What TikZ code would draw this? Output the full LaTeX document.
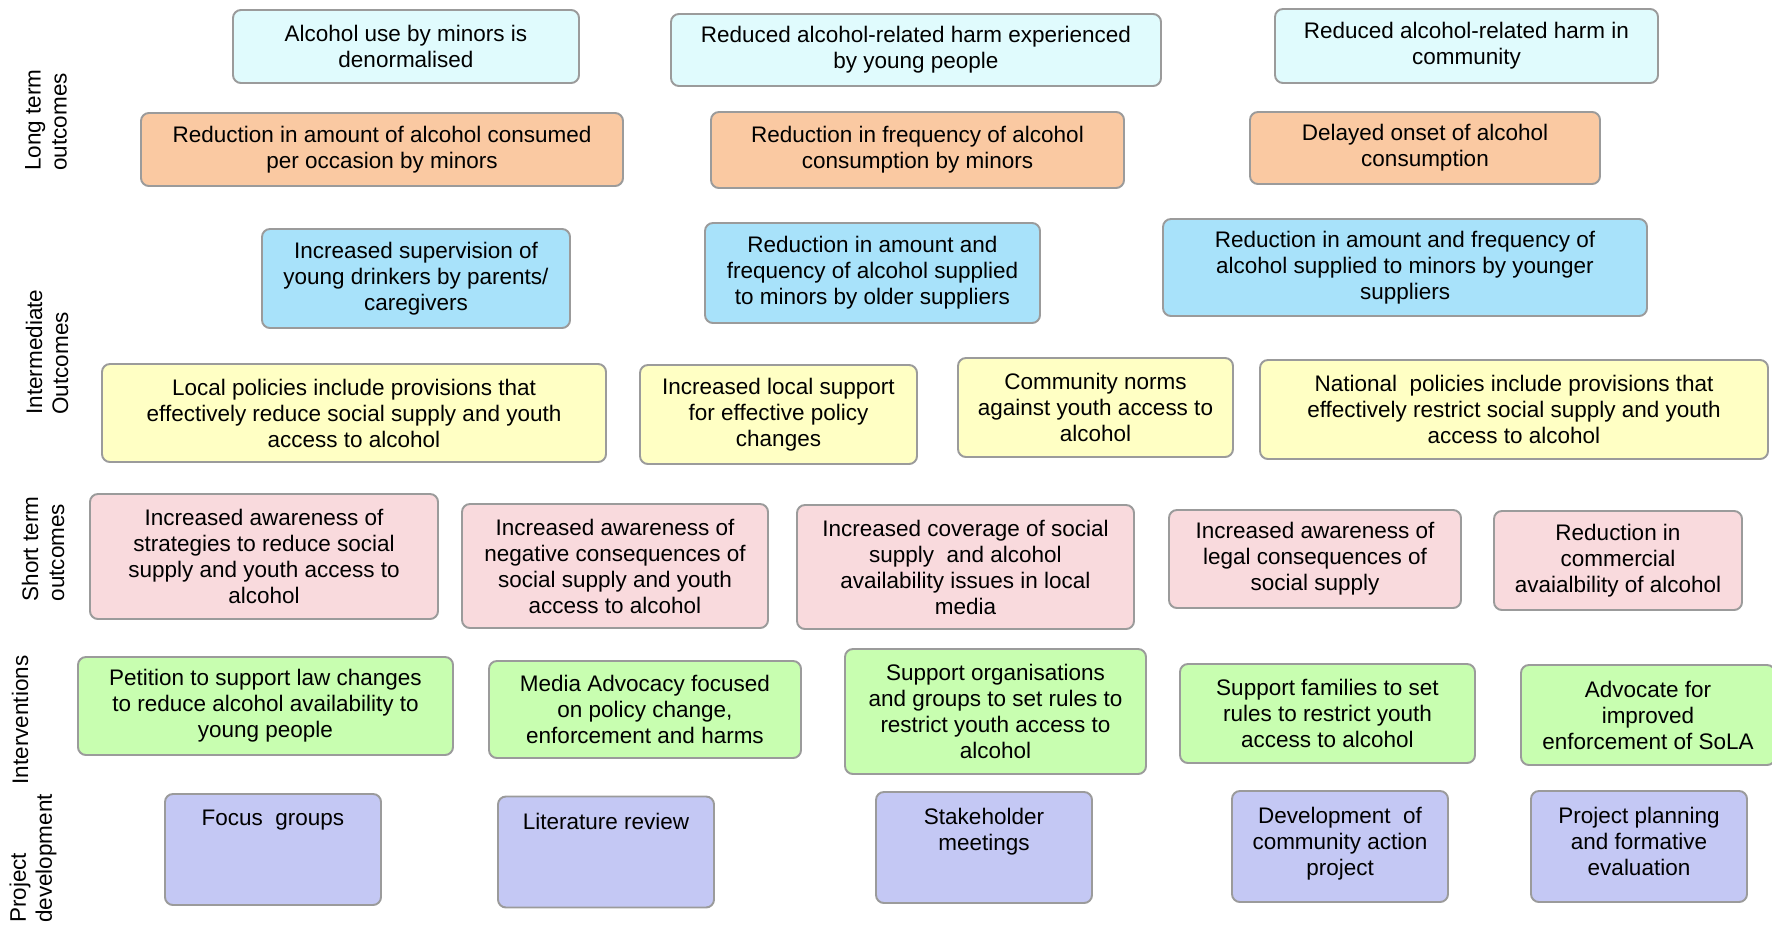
\documentclass[tikz,border=0pt]{standalone}
\usepackage{fontspec}
\setmainfont{Liberation Sans}
\usepackage{tikz}
\usetikzlibrary{positioning}

\definecolor{goalcyan}{RGB}{224,251,253}
\definecolor{useorange}{RGB}{250,201,162}
\definecolor{supplyblue}{RGB}{168,226,250}
\definecolor{policyyellow}{RGB}{255,255,196}
\definecolor{shortpink}{RGB}{249,218,221}
\definecolor{actiongreen}{RGB}{200,254,176}
\definecolor{devpurple}{RGB}{196,200,244}
\definecolor{edgegray}{RGB}{155,155,155}

\begin{document}
\begin{tikzpicture}[
    every node/.style={font=\fontsize{12.8}{14.8}\selectfont},
    box/.style={draw=edgegray, line width=1.1pt, rounded corners=4.5pt, align=center, inner sep=2pt},
    longterm/.style={box, fill=goalcyan},
    usebox/.style={box, fill=useorange},
    supply/.style={box, fill=supplyblue},
    policy/.style={box, fill=policyyellow},
    shortterm/.style={box, fill=shortpink},
    intervention/.style={box, fill=actiongreen},
    devbox/.style={box, fill=devpurple, minimum width=4.32cm, minimum height=2.22cm},
    devtext/.style={anchor=north, yshift=-0.34cm, inner sep=0pt, align=center},
    rowlabel/.style={rotate=90, align=left, inner sep=0pt}
]
\useasboundingbox (0,0) rectangle (35.44,-18.56);

% row labels
\node[rowlabel] (lbllong) at (0.92,-2.40) {Long term\\outcomes};
\node[rowlabel] (lblinter) at (0.94,-7.04) {Intermediate\\Outcomes};
\node[rowlabel] (lblshort) at (0.86,-10.98) {Short term\\outcomes};
\node[rowlabel] (lblinterv) at (0.40,-14.40) {Interventions};
\node[rowlabel] (lbldev) at (0.66,-17.17) {Project\\development};

% long term outcomes
\node[longterm, minimum width=6.92cm, minimum height=1.46cm] (denorm) at (8.12,-0.93) {Alcohol use by minors is\\denormalised};
\node[longterm, minimum width=9.80cm, minimum height=1.44cm] (harmyoung) at (18.32,-1.00) {Reduced alcohol-related harm experienced\\by young people};
\node[longterm, minimum width=7.66cm, minimum height=1.48cm] (harmcomm) at (29.33,-0.92) {Reduced alcohol-related harm in\\community};
\node[usebox, minimum width=9.64cm, minimum height=1.46cm] (amount) at (7.64,-2.99) {Reduction in amount of alcohol consumed\\per occasion by minors};
\node[usebox, minimum width=8.26cm, minimum height=1.52cm] (frequency) at (18.35,-3.00) {Reduction in frequency of alcohol\\consumption by minors};
\node[usebox, minimum width=7.00cm, minimum height=1.44cm] (onset) at (28.50,-2.96) {Delayed onset of alcohol\\consumption};

% intermediate outcomes
\node[supply, minimum width=6.16cm, minimum height=1.98cm] (supervision) at (8.32,-5.57) {Increased supervision of\\young drinkers by parents/\\caregivers};
\node[supply, minimum width=6.70cm, minimum height=2.00cm] (oldersupply) at (17.45,-5.46) {Reduction in amount and\\frequency of alcohol supplied\\to minors by older suppliers};
\node[supply, minimum width=9.68cm, minimum height=1.94cm] (youngsupply) at (28.10,-5.35) {Reduction in amount and frequency of\\alcohol supplied to minors by younger\\suppliers};
\node[policy, minimum width=10.08cm, minimum height=1.96cm] (localpol) at (7.08,-8.26) {Local policies include provisions that\\effectively reduce social supply and youth\\access to alcohol};
\node[policy, minimum width=5.54cm, minimum height=1.98cm] (localsupport) at (15.57,-8.29) {Increased local support\\for effective policy\\changes};
\node[policy, minimum width=5.50cm, minimum height=1.98cm] (norms) at (21.91,-8.15) {Community norms\\against youth access to\\alcohol};
\node[policy, minimum width=10.16cm, minimum height=1.98cm] (nationalpol) at (30.28,-8.19) {National\ \ policies include provisions that\\effectively restrict social supply and youth\\access to alcohol};

% short term outcomes
\node[shortterm, minimum width=6.96cm, minimum height=2.50cm] (strategies) at (5.28,-11.13) {Increased awareness of\\strategies to reduce social\\supply and youth access to\\alcohol};
\node[shortterm, minimum width=6.12cm, minimum height=2.48cm] (negative) at (12.30,-11.32) {Increased awareness of\\negative consequences of\\social supply and youth\\access to alcohol};
\node[shortterm, minimum width=6.74cm, minimum height=2.48cm] (coverage) at (19.31,-11.34) {Increased coverage of social\\supply\ \ and alcohol\\availability issues in local\\media};
\node[shortterm, minimum width=5.84cm, minimum height=1.96cm] (legal) at (26.30,-11.18) {Increased awareness of\\legal consequences of\\social supply};
\node[shortterm, minimum width=4.96cm, minimum height=1.98cm] (commercial) at (32.36,-11.21) {Reduction in\\commercial\\avaialbility of alcohol};

% interventions
\node[intervention, minimum width=7.50cm, minimum height=1.96cm] (petition) at (5.31,-14.12) {Petition to support law changes\\to reduce alcohol availability to\\young people};
\node[intervention, minimum width=6.24cm, minimum height=1.94cm] (media) at (12.90,-14.19) {Media Advocacy focused\\on policy change,\\enforcement and harms};
\node[intervention, minimum width=6.02cm, minimum height=2.50cm] (orgrules) at (19.91,-14.23) {Support organisations\\and groups to set rules to\\restrict youth access to\\alcohol};
\node[intervention, minimum width=5.90cm, minimum height=1.98cm] (famrules) at (26.55,-14.27) {Support families to set\\rules to restrict youth\\access to alcohol};
\node[intervention, minimum width=5.08cm, minimum height=2.00cm] (sola) at (32.96,-14.30) {Advocate for\\improved\\enforcement of SoLA};

% project development
\node[devbox, label={[devtext]north:Focus\ \ groups}] (focus) at (5.46,-16.99) {};
\node[devbox, label={[devtext]north:Literature review}] (litreview) at (12.12,-17.04) {};
\node[devbox, label={[devtext]north:Stakeholder\\meetings}] (stakeholder) at (19.68,-16.95) {};
\node[devbox, label={[devtext]north:Development\ \ of\\community action\\project}] (cap) at (26.80,-16.93) {};
\node[devbox, label={[devtext]north:Project planning\\and formative\\evaluation}] (planning) at (32.78,-16.93) {};
\end{tikzpicture}
\end{document}
